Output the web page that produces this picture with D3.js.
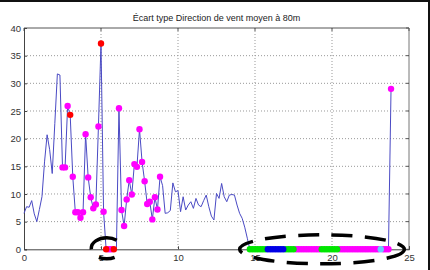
<!DOCTYPE html>
<html><head><meta charset="utf-8">
<script src="https://cdn.jsdelivr.net/npm/d3@7"></script>
<style>
html,body{margin:0;padding:0;background:#fff;}
svg{display:block;}
text{font-family:"Liberation Sans",Arial,sans-serif;}
</style></head>
<body>
<script>
// ---- data ----
const title = "Écart type Direction de vent moyen à 80m";
const stepHours = 1/6; // 10-minute samples
const ecartType = [
 6.5,7.7,7.6,8.8,6.4,5.0,7.2,9.5,15.8,20.7,18.0,13.7,22.7,31.7,31.5,14.8,14.8,25.9,24.3,13.1,
 6.7,6.7,5.7,6.7,20.8,13.0,9.4,7.4,8.1,22.2,37.2,6.8,0,0,0,0,0,25.5,7.1,4.2,
 9.0,12.5,9.9,15.4,14.9,21.7,15.8,12.3,8.2,8.6,5.4,9.4,7.2,13.1,11.5,6.5,6.6,7.0,12.0,10.4,
 10.6,6.8,9.5,7.1,8.0,8.6,7.4,9.2,8.0,7.7,8.8,9.8,7.7,6.0,5.3,10.1,9.2,11.9,9.5,8.6,
 9.8,9.9,9.8,8.0,6.5,5.6,4.0,2.0,0,0,0,0,0,0,0,0,0,0,0,0,
 0,0,0,0,0,0,0,0,0,0,0,0,0,0,0,0,0,0,0,0,
 0,0,0,0,0,0,0,0,0,0,0,0,0,0,0,0,0,0,0,0,
 0,0,0,29.0
];
const hours = ecartType.map((_, i) => i * stepHours);
const range = (a, b) => d3.range(a, b + 1);
const magentaIdx = [15,16,17,19,20,21,22,23,24,25,26,27,28,29,31,33,34]
  .concat(range(37,53), range(106,115), range(123,138), range(140,143));
const redIdx = [18, 30, 32, 35];
const greenIdx = range(88,94).concat(range(102,105), range(116,122));
const blueIdx = range(95,101);
const cyanIdx = [139];
const xTicks = [0,5,10,15,20,25];
const yTicks = [0,5,10,15,20,25,30,35,40];
// highlighted zones (hours range)
const zoneA = [5.05, 7.05];
const zoneB = [14.0, 24.7];

// ---- drawing ----
const W = 430, H = 270;
const svg = d3.select("body").append("svg").attr("width", W).attr("height", H);
const L = 24, R = 409, T = 28, B = 249.3;
const x = d3.scaleLinear().domain([0,25]).range([L,R]);
const y = d3.scaleLinear().domain([0,40]).range([B,T]);

// outer frame (top and right edges visible)
svg.append("line").attr("x1",0).attr("x2",430).attr("y1",1).attr("y2",1)
  .attr("stroke","#111").attr("stroke-width",2);
svg.append("line").attr("x1",429).attr("x2",429).attr("y1",0).attr("y2",270)
  .attr("stroke","#111").attr("stroke-width",2);

// grid
const g = svg.append("g");
g.selectAll(".gx").data(xTicks.slice(1,-1)).enter().append("line")
  .attr("x1",d=>x(d)).attr("x2",d=>x(d)).attr("y1",T).attr("y2",B)
  .attr("stroke","#999").attr("stroke-width",1).attr("stroke-dasharray","1,2");
g.selectAll(".gy").data(yTicks.slice(1,-1)).enter().append("line")
  .attr("x1",L).attr("x2",R).attr("y1",d=>y(d)).attr("y2",d=>y(d))
  .attr("stroke","#999").attr("stroke-width",1).attr("stroke-dasharray","1,2");

// box top/right
svg.append("line").attr("x1",L).attr("x2",R).attr("y1",T).attr("y2",T).attr("stroke","#555");
svg.append("line").attr("x1",R).attr("x2",R).attr("y1",T).attr("y2",B).attr("stroke","#777");
svg.selectAll(".tt").data(xTicks).enter().append("line")
  .attr("x1",d=>x(d)).attr("x2",d=>x(d)).attr("y1",T).attr("y2",T+3).attr("stroke","#555");
svg.selectAll(".tr").data(yTicks).enter().append("line")
  .attr("x1",R-3).attr("x2",R).attr("y1",d=>y(d)).attr("y2",d=>y(d)).attr("stroke","#555");

const xAxis = d3.axisBottom(x).tickValues(xTicks).tickSize(-3).tickPadding(5).tickFormat(d3.format("d"));
const yAxis = d3.axisLeft(y).tickValues(yTicks).tickSize(-3).tickPadding(3).tickFormat(d3.format("d"));
const gx = svg.append("g").attr("transform",`translate(0,${B})`).call(xAxis);
const gy = svg.append("g").attr("transform",`translate(${L},0)`).call(yAxis);
[gx,gy].forEach(a=>{
  a.select(".domain").attr("stroke","#444");
  a.selectAll(".tick line").attr("stroke","#444");
  a.selectAll("text").attr("font-size","9.5px").attr("fill","#333")
   .style("font-family","'Liberation Sans',Arial,sans-serif");
});

// title
svg.append("text").attr("x",(L+R)/2).attr("y",20.5).attr("text-anchor","middle")
  .attr("font-size","9px").attr("fill","#222").text(title);

// line
const line = d3.line().x((d,i)=>x(hours[i])).y(d=>y(d));
svg.append("path").datum(ecartType).attr("d",line).attr("fill","none")
  .attr("stroke","#4a4ac4").attr("stroke-width",1);

function markers(idx, color){
  svg.append("g").selectAll("circle").data(idx).enter().append("circle")
    .attr("cx",i=>x(hours[i])).attr("cy",i=>y(ecartType[i])).attr("r",3.2)
    .attr("fill",color);
}
markers(magentaIdx, "#ff00ff");
markers(greenIdx, "#00e600");
markers(blueIdx, "#0000e6");
markers(cyanIdx, "#66ccff");
markers(redIdx, "#ff0000");

// dashed ellipses (dash pattern given in degrees of the perimeter)
function zone(r, ry, dy, dash){
  const cx = (x(r[0]) + x(r[1]))/2;
  const rx = (x(r[1]) - x(r[0]))/2;
  svg.append("ellipse").attr("cx",cx).attr("cy",y(0)+dy).attr("rx",rx).attr("ry",ry)
    .attr("fill","none").attr("stroke","#000").attr("stroke-width",3.5)
    .attr("pathLength",360).attr("stroke-dasharray",dash);
}
zone([5.3 - 0.93, 5.3 + 1.08], 10.5, -1, "0,55,70,50,140,45");
zone(zoneB, 14.5, 0, "22,13");
</script>
</body></html>
